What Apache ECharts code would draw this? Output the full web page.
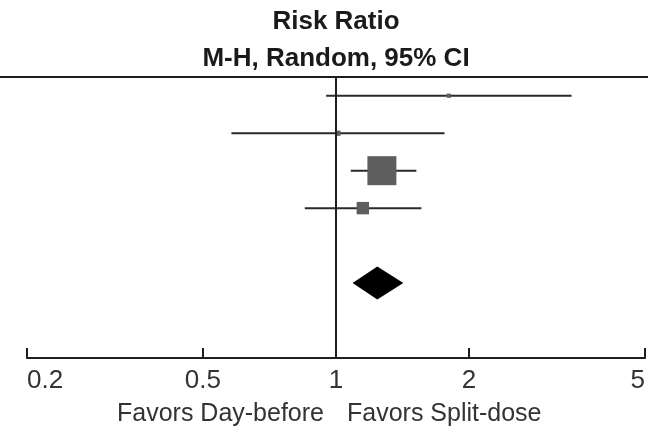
<!DOCTYPE html>
<html><head><meta charset="utf-8">
<script src="https://cdn.jsdelivr.net/npm/echarts@6/dist/echarts.min.js"></script>
<style>html,body{margin:0;padding:0;background:#fff}#c{width:648px;height:428px}</style>
</head><body><div id="c"></div>
<script>
// ---- data ----
const studyRows = [0, 1, 2, 3];
const estimates = [1.80, 1.01, 1.27, 1.15];
const ciLower = [0.95, 0.58, 1.08, 0.85];
const ciUpper = [3.41, 1.76, 1.52, 1.56];
const weights = [1.7, 2.6, 80.9, 14.8];
const pooledRow = [5];
const pooledEstimate = [1.24];
const pooledLower = [1.09];
const pooledUpper = [1.42];
const tickValues = [0.2, 0.5, 1, 2, 5];
const tickLabels = ['0.2', '0.5', '1', '2', '5'];
const titleLines = ['Risk Ratio', 'M-H, Random, 95% CI'];
const favorsLabels = ['Favors Day-before', 'Favors Split-dose'];

const maxW = Math.max.apply(null, weights);
const studyData = studyRows.map((r, i) => [ciLower[i], ciUpper[i], estimates[i], r, weights[i]]);
const pooledData = pooledRow.map((r, i) => [pooledLower[i], pooledUpper[i], pooledEstimate[i], r]);
const FONT = '"Liberation Sans", Arial, sans-serif';

const chart = echarts.init(document.getElementById('c'), null, {renderer: 'canvas'});
chart.setOption({
  animation: false,
  backgroundColor: '#ffffff',
  grid: {left: 27, right: 1, top: 77, bottom: 70, containLabel: false},
  xAxis: {
    type: 'log', logBase: 10, min: 0.2, max: 5, position: 'bottom',
    splitLine: {show: false},
    axisLine: {show: true, onZero: false, lineStyle: {color: '#1e1e1e', width: 2}},
    axisTick: {show: true, inside: true, length: 10, customValues: tickValues,
      lineStyle: {color: '#1e1e1e', width: 2}},
    axisLabel: {show: true, customValues: tickValues, margin: 10,
      fontSize: 26, color: '#333', fontFamily: FONT,
      alignMinLabel: 'left', alignMaxLabel: 'right',
      formatter: v => {
        const i = tickValues.findIndex(t => Math.abs(t - v) < 1e-6);
        return i >= 0 ? tickLabels[i] : '';
      }}
  },
  yAxis: {type: 'value', min: -0.5, max: 7, inverse: true, show: false},
  graphic: [
    {type: 'line', shape: {x1: 0, y1: 77, x2: 648, y2: 77},
      style: {stroke: '#1e1e1e', lineWidth: 2}, z: 10},
    {type: 'text', x: 336, y: 22, style: {text: titleLines[0], fontSize: 26, fontWeight: 'bold',
      fontFamily: FONT, fill: '#1a1a1a', textAlign: 'center', textVerticalAlign: 'middle'}},
    {type: 'text', x: 336, y: 59, style: {text: titleLines[1], fontSize: 26, fontWeight: 'bold',
      fontFamily: FONT, fill: '#1a1a1a', textAlign: 'center', textVerticalAlign: 'middle'}},
    {type: 'text', x: 324, y: 414, style: {text: favorsLabels[0], fontSize: 25,
      fontFamily: FONT, fill: '#333', textAlign: 'right', textVerticalAlign: 'middle'}},
    {type: 'text', x: 347, y: 414, style: {text: favorsLabels[1], fontSize: 25,
      fontFamily: FONT, fill: '#333', textAlign: 'left', textVerticalAlign: 'middle'}}
  ],
  series: [
    {
      type: 'custom', name: 'studies', data: studyData,
      encode: {x: [0, 1, 2], y: 3},
      renderItem: function (params, api) {
        const y = api.value(3);
        const lo = api.coord([api.value(0), y]);
        const hi = api.coord([api.value(1), y]);
        const c = api.coord([api.value(2), y]);
        const s = Math.sqrt(api.value(4) / maxW) * 29;
        return {type: 'group', children: [
          {type: 'line', shape: {x1: lo[0], y1: lo[1], x2: hi[0], y2: hi[1]},
            style: {stroke: '#2a2a2a', lineWidth: 2}},
          {type: 'rect', shape: {x: c[0] - s / 2, y: c[1] - s / 2, width: s, height: s},
            style: {fill: '#5e5e5e'}}
        ]};
      },
      markLine: {
        silent: true, symbol: 'none', label: {show: false},
        lineStyle: {color: '#1e1e1e', width: 2, type: 'solid'},
        data: [{xAxis: 1}]
      }
    },
    {
      type: 'custom', name: 'pooled', data: pooledData,
      encode: {x: [0, 1, 2], y: 3},
      renderItem: function (params, api) {
        const y = api.value(3);
        const lo = api.coord([api.value(0), y]);
        const hi = api.coord([api.value(1), y]);
        const c = api.coord([api.value(2), y]);
        const h = 16.5;
        return {type: 'polygon', shape: {points: [[lo[0], lo[1]], [c[0], c[1] - h], [hi[0], hi[1]], [c[0], c[1] + h]]},
          style: {fill: '#000'}};
      }
    }
  ]
});
</script>
</body></html>
